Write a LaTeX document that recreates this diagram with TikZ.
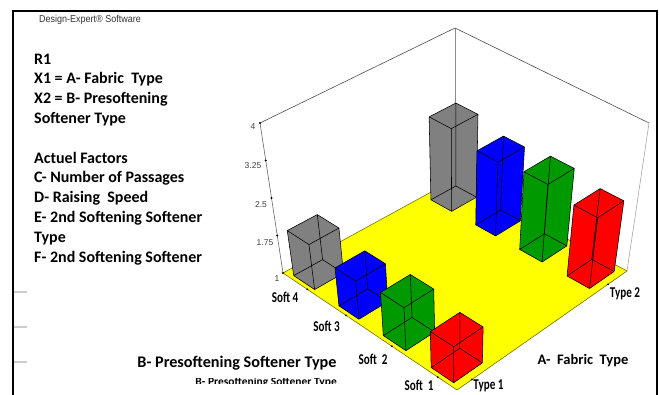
\documentclass[tikz,border=0pt]{standalone}
\usepackage{fontspec}
\setmainfont{Carlito}
\newfontfamily\arialfont{Liberation Sans}

% keys of the bx coordinate system: a = fabric axis, b = softener axis, h = response
\pgfkeys{/bx/a/.store in=\bxa,/bx/b/.store in=\bxb,/bx/h/.store in=\bxh}
% floor corners (h=1) and box top corners (h=4), bilinear in (a,b), linear in h
\tikzdeclarecoordinatesystem{bx}{%
  \pgfkeys{/bx/.cd,a=0,b=0,h=1,#1}%
  \pgfmathsetmacro\bxt{(\bxh-1)/3}%
  \pgfmathsetmacro\bxwF{(1-\bxa)*(1-\bxb)}%
  \pgfmathsetmacro\bxwR{\bxa*(1-\bxb)}%
  \pgfmathsetmacro\bxwL{(1-\bxa)*\bxb}%
  \pgfmathsetmacro\bxwK{\bxa*\bxb}%
  \pgfmathsetmacro\bxX{\bxwF*457+\bxwR*(627+22*\bxt)+\bxwL*(283-23*\bxt)+\bxwK*455}%
  \pgfmathsetmacro\bxY{\bxwF*(390-150*\bxt)+\bxwR*(271-148*\bxt)+\bxwL*(273-150*\bxt)+\bxwK*(179-151*\bxt)}%
  \pgfpointxy{\bxX}{\bxY}%
}

% a bar: a0 a1 b0 b1 height colour
\newcommand\drawpillar[6]{%
  \fill[#6] (bx cs:a=#1,b=#4,h=1) -- (bx cs:a=#1,b=#3,h=1) -- (bx cs:a=#2,b=#3,h=1)
    -- (bx cs:a=#2,b=#3,h=#5) -- (bx cs:a=#2,b=#4,h=#5) -- (bx cs:a=#1,b=#4,h=#5) -- cycle;
  \draw[baredge]
    (bx cs:a=#1,b=#3,h=1) -- (bx cs:a=#2,b=#3,h=1) -- (bx cs:a=#2,b=#4,h=1) -- (bx cs:a=#1,b=#4,h=1) -- cycle
    (bx cs:a=#1,b=#3,h=#5) -- (bx cs:a=#2,b=#3,h=#5) -- (bx cs:a=#2,b=#4,h=#5) -- (bx cs:a=#1,b=#4,h=#5) -- cycle
    (bx cs:a=#1,b=#3,h=1) -- (bx cs:a=#1,b=#3,h=#5)
    (bx cs:a=#2,b=#3,h=1) -- (bx cs:a=#2,b=#3,h=#5)
    (bx cs:a=#2,b=#4,h=1) -- (bx cs:a=#2,b=#4,h=#5)
    (bx cs:a=#1,b=#4,h=1) -- (bx cs:a=#1,b=#4,h=#5);
}

\definecolor{bargray}{RGB}{128,128,128}
\definecolor{barblue}{RGB}{0,0,255}
\definecolor{bargreen}{RGB}{0,153,0}
\definecolor{barred}{RGB}{255,0,0}
\definecolor{floorfill}{RGB}{255,255,0}

\tikzset{
  frameline/.style={line width=2pt, black},
  sidemark/.style={line width=1.5pt, black!20},
  floorpatch/.style={fill=floorfill, draw=black!55!floorfill, line width=0.6pt},
  boxline/.style={black!70, line width=0.6pt},
  baredge/.style={black, line width=0.55pt, line join=round},
  tickdot/.style={circle, fill=black, inner sep=0pt, minimum size=2.2pt},
  ticklabel/.style={font=\arialfont\fontsize{8.5}{9}\selectfont, text=black!75, inner sep=0pt},
  catlabel/.style={font=\bfseries\fontsize{15}{15}\selectfont, xscale=0.74, inner sep=0.5pt, anchor=base},
  axistitle/.style={font=\bfseries\fontsize{14.5}{15}\selectfont, inner sep=0pt, anchor=base},
  legendtext/.style={font=\bfseries\fontsize{16}{19.8}\selectfont, align=left, inner sep=0pt, anchor=north west},
}

\begin{document}
\begin{tikzpicture}[x=1pt,y=-1pt]
\useasboundingbox (0,0) rectangle (659,394);
\clip (0,0) rectangle (659,394);

% outer frame, open at the bottom
\draw[frameline] (13,400) -- (13,11) -- (657,11) -- (657,400);
\draw[sidemark] (14,292) -- (27,292) (14,327) -- (27,327) (14,362) -- (27,362);

% header and legend
\node[font=\arialfont\fontsize{10}{10}\selectfont, text=black!80, xscale=0.9, inner sep=0pt, anchor=west] (hdr) at (39,20) {Design-Expert\textregistered\ Software};
\node[legendtext] (legend) at (34,53.5) {R1\\X1 = A- Fabric\ \ Type\\X2 = B- Presoftening\\Softener Type\\[19.8pt]Actuel Factors\\C- Number of Passages\\D- Raising\ \ Speed\\E- 2nd Softening Softener\\Type\\F- 2nd Softening Softener};

% box corners
\coordinate (F) at (bx cs:a=0,b=0,h=1);
\coordinate (R) at (bx cs:a=1,b=0,h=1);
\coordinate (L) at (bx cs:a=0,b=1,h=1);
\coordinate (K) at (bx cs:a=1,b=1,h=1);
\coordinate (Rt) at (bx cs:a=1,b=0,h=4);
\coordinate (Lt) at (bx cs:a=0,b=1,h=4);
\coordinate (Kt) at (bx cs:a=1,b=1,h=4);

% back walls of the box
\draw[black!45, line width=0.7pt] (K) -- (Kt);
\draw[boxline] (Lt) -- (Kt) -- (Rt);
\draw[black!35, line width=0.6pt] (Rt) -- (R);

% floor
\draw[floorpatch] (F) -- (R) -- (K) -- (L) -- cycle;

% response axis with ticks
\draw[black!60, line width=0.6pt] (L) -- (Lt);
\foreach \v/\nm in {1/t1, 1.75/t2, 2.5/t3, 3.25/t4, 4/t5}
  \node[tickdot] (\nm) at (bx cs:a=0,b=1,h=\v) {};
\node[ticklabel] (l4) at (253,127) {4};
\node[ticklabel] (l325) at (253,166) {3.25};
\node[ticklabel] (l25) at (261,205) {2.5};
\node[ticklabel] (l175) at (265,243) {1.75};
\node[ticklabel] (l1) at (277,279) {1};

% category ticks on the floor edges
\foreach \v/\nm in {0.11/s1, 0.374/s2, 0.638/s3, 0.86/s4}
  \node[tickdot, minimum size=2pt] (\nm) at (bx cs:a=0,b=\v,h=1) {};
\foreach \v/\nm in {0.088/ty1, 0.888/ty2}
  \node[tickdot, minimum size=2pt] (\nm) at (bx cs:a=\v,b=0,h=1) {};

% Type 2 row
\drawpillar{0.82}{0.965}{0.84}{0.96}{2.65}{bargray}
\drawpillar{0.82}{0.965}{0.585}{0.70}{2.48}{barblue}
\drawpillar{0.82}{0.965}{0.315}{0.445}{2.56}{bargreen}
\drawpillar{0.82}{0.965}{0.04}{0.17}{2.43}{barred}
% Type 1 row
\drawpillar{0.022}{0.19}{0.84}{0.96}{1.9}{bargray}
\drawpillar{0.022}{0.19}{0.585}{0.70}{1.76}{barblue}
\drawpillar{0.022}{0.19}{0.315}{0.445}{1.86}{bargreen}
\drawpillar{0.022}{0.19}{0.04}{0.17}{1.72}{barred}

% category and axis labels
\node[catlabel] (soft4) at (285,302) {Soft 4};
\node[catlabel] (soft3) at (326.5,331.5) {Soft 3};
\node[catlabel] (soft2) at (373,364) {Soft\ \ 2};
\node[catlabel] (soft1) at (419,390.5) {Soft\ \ 1};
\node[catlabel, fill=white] (type1) at (488.5,389) {Type 1};
\node[catlabel, fill=white] (type2) at (625,297.5) {Type 2};
\node[axistitle] (atitle) at (583,364) {A-\ \ Fabric\ \ Type};
\node[axistitle, font=\bfseries\fontsize{16.2}{17}\selectfont, fill=white, inner sep=1pt] (btitle) at (237,367.5) {B- Presoftening Softener Type};

% second, partly hidden copy of the softener axis title
\begin{scope}
  \clip (190,378.5) rectangle (340,383.5);
  \node[font=\bfseries\fontsize{11.5}{12}\selectfont, inner sep=0pt, anchor=base east] (bghost) at (337,385) {B- Presoftening Softener Type};
\end{scope}
\end{tikzpicture}
\end{document}
